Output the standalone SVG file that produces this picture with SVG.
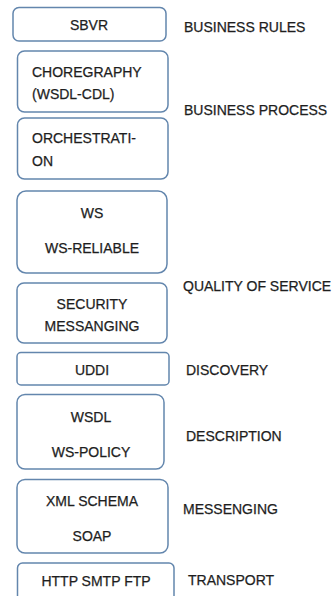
<svg xmlns="http://www.w3.org/2000/svg" width="335" height="596" viewBox="0 0 335 596">
<style>
.box{fill:#fff;stroke:#6386ad;stroke-width:1.5}
text{font-family:"Liberation Sans",Arial,sans-serif;font-size:14px;fill:#1e1e1e;stroke:#1e1e1e;stroke-width:0.25}
.c{text-anchor:middle}
</style>
<rect width="335" height="596" fill="#fff"/>
<g id="sbvr"><rect class="box" x="13" y="7.5" width="153" height="33.5" rx="6"/><text class="c" x="89" y="30">SBVR</text></g>
<g id="choreography"><rect class="box" x="17.5" y="51" width="150.5" height="61" rx="7"/><text x="32" y="77">CHOREGRAPHY</text><text x="32" y="99">(WSDL-CDL)</text></g>
<g id="orchestration"><rect class="box" x="17.5" y="118" width="150.5" height="61" rx="7"/><text x="32" y="143">ORCHESTRATI-</text><text x="32" y="166">ON</text></g>
<g id="ws"><rect class="box" x="17" y="191" width="150" height="82" rx="9"/><text class="c" x="92" y="218">WS</text><text class="c" x="92" y="253">WS-RELIABLE</text></g>
<g id="security"><rect class="box" x="17" y="283" width="150" height="60" rx="7"/><text class="c" x="92" y="309">SECURITY</text><text class="c" x="92" y="331">MESSANGING</text></g>
<g id="uddi"><rect class="box" x="17" y="352.5" width="152" height="32.5" rx="4"/><text class="c" x="92" y="375">UDDI</text></g>
<g id="wsdl"><rect class="box" x="17" y="394.5" width="147" height="74.5" rx="8"/><text class="c" x="91" y="422">WSDL</text><text class="c" x="91" y="457">WS-POLICY</text></g>
<g id="xml"><rect class="box" x="17" y="479.5" width="151" height="73.5" rx="8"/><text class="c" x="92" y="506">XML SCHEMA</text><text class="c" x="92" y="541">SOAP</text></g>
<g id="transport"><rect class="box" x="17.5" y="563" width="156.5" height="45" rx="5"/><text class="c" x="96" y="586">HTTP SMTP FTP</text></g>
<g id="labels">
<text x="184" y="32">BUSINESS RULES</text>
<text x="184" y="115">BUSINESS PROCESS</text>
<text x="183" y="291">QUALITY OF SERVICE</text>
<text x="186" y="375">DISCOVERY</text>
<text x="186" y="441">DESCRIPTION</text>
<text x="183" y="514">MESSENGING</text>
<text x="188" y="585">TRANSPORT</text>
</g>
<g id="connectors"></g>
</svg>
